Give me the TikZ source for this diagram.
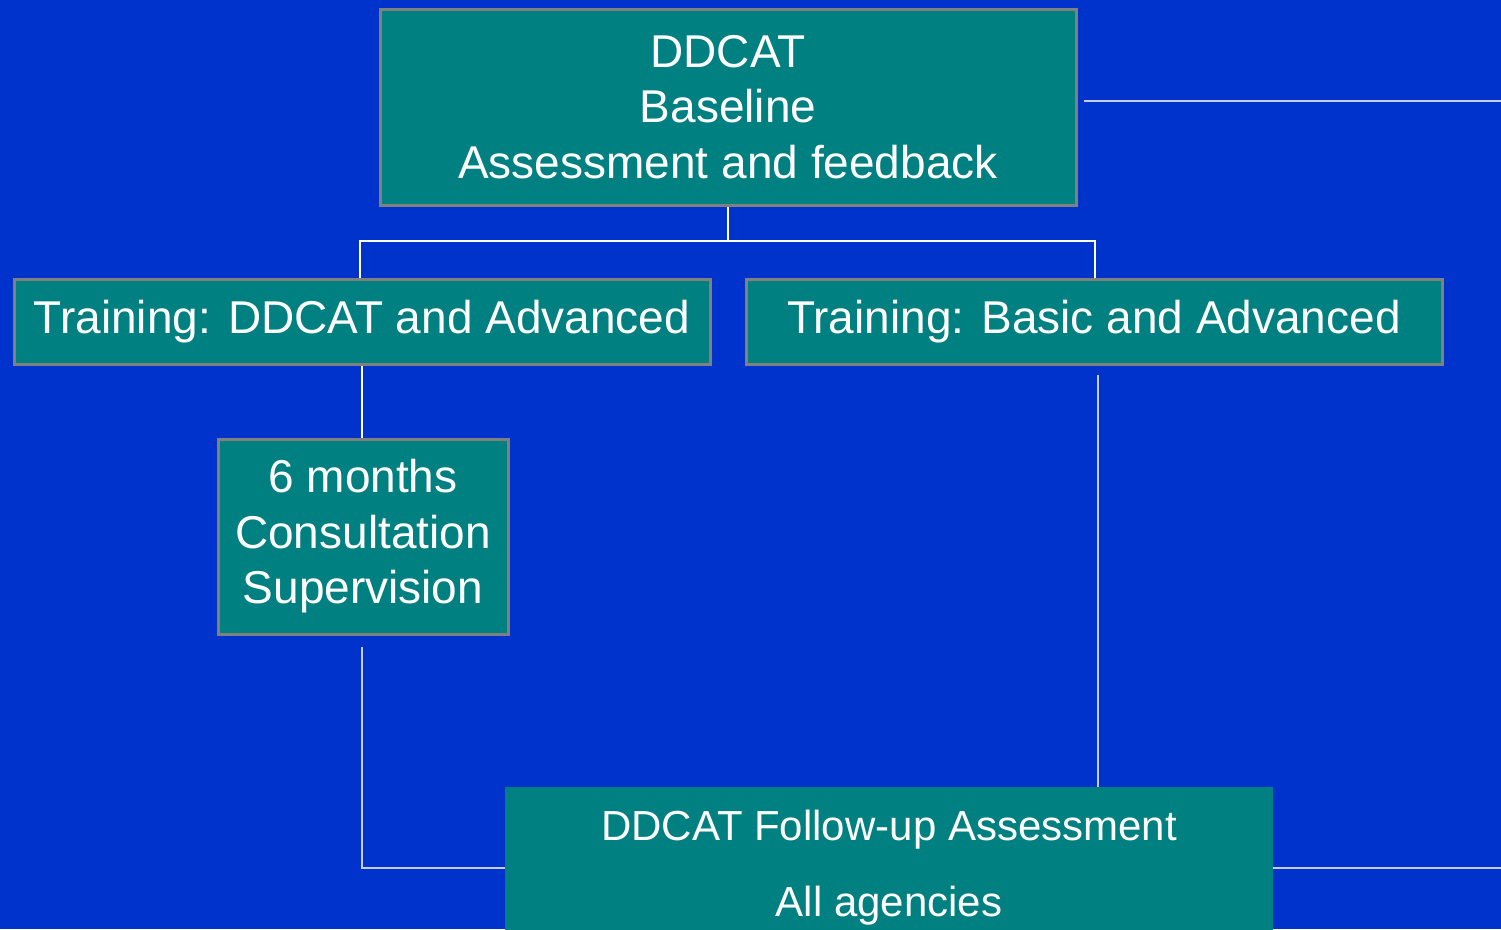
\documentclass[tikz,border=0pt]{standalone}
\usepackage{fontspec}
\setmainfont{Liberation Sans}
\definecolor{bgblue}{HTML}{0033CC}
\definecolor{teal}{HTML}{008080}
\definecolor{bordergray}{HTML}{808080}
\definecolor{linegray}{HTML}{C8CCE0}
\begin{document}
\begin{tikzpicture}[x=1pt,y=-1pt,
  boxstyle/.style={draw=bordergray,line width=3pt,fill=teal,text=white,align=center,inner sep=0pt,
    font=\fontsize{46}{55.5}\selectfont},
  plainbox/.style={fill=teal,text=white,align=center,inner xsep=0pt,inner ysep=23pt,
    font=\fontsize{42}{76}\selectfont},
  wline/.style={draw=white,line width=2.5pt},
  gline/.style={draw=linegray,line width=1.6pt}]
\useasboundingbox (0,0) rectangle (1501,929);
\fill[bgblue] (0,0) rectangle (1501,929);
\begin{scope}
\clip (0,0) rectangle (1501,929);
\node[boxstyle,minimum width=696pt,minimum height=196pt] (top) at (728,107) {DDCAT\\Baseline\\Assessment and feedback};
\node[boxstyle,minimum width=696pt,minimum height=85pt] (t1) at (362,321.5) {Training: DDCAT and Advanced};
\node[boxstyle,minimum width=696pt,minimum height=85pt] (t2) at (1094,321.5) {Training: Basic and Advanced};
\node[boxstyle,minimum width=290pt,minimum height=195pt] (six) at (363,536.5) {6 months\\Consultation\\Supervision};
\node[plainbox,minimum width=768pt,anchor=north] (bot) at (889,787) {DDCAT Follow-up Assessment\\All agencies};
\coordinate (edgeTop) at (1501,101);
\coordinate (edgeBot) at (1501,868);
\coordinate (split) at (728,241);
\draw[wline] (top.south) -- (split);
\draw[wline] (split) -| ([xshift=-2pt]t1.north);
\draw[wline] (split) -| ([xshift=1pt]t2.north);
\draw[wline] (t1.south) -- (six.north -| t1.south);
\draw[gline] ([xshift=-1pt,yshift=-11pt]six.south) |- (bot.west |- edgeBot);
\draw[gline] ([xshift=4pt,yshift=-9pt]t2.south) -- (bot.north -| 1098,0);
\draw[gline] ([xshift=6pt]top.east |- edgeTop) -- (edgeTop);
\draw[gline] (bot.east |- edgeBot) -- (edgeBot);
\end{scope}
\end{tikzpicture}
\end{document}
